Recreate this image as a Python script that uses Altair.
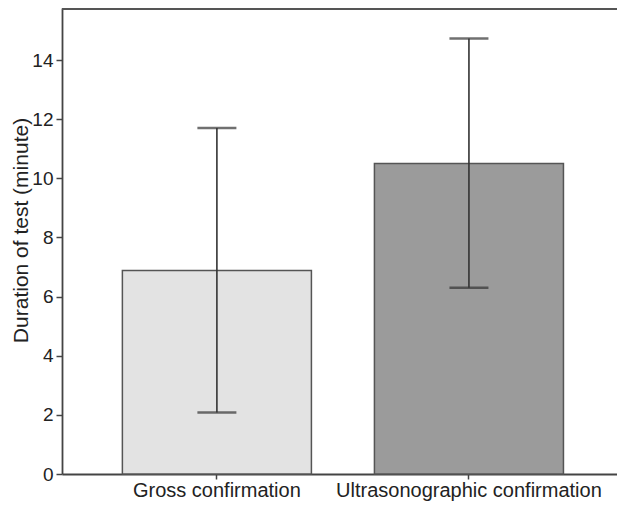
import altair as alt
import pandas as pd

groups = ["Gross confirmation", "Ultrasonographic confirmation"]
means = [6.88, 10.5]
lows = [2.08, 6.3]
highs = [11.7, 14.73]
fills = ["#e3e3e3", "#9b9b9b"]
yticks = [0, 2, 4, 6, 8, 10, 12, 14]

df = pd.DataFrame({"group": groups, "mean": means, "low": lows, "high": highs, "fill": fills})

ymax = 15.76
FONT = "Liberation Sans"
xenc = alt.X("group:N", sort=groups, title=None,
             scale=alt.Scale(paddingInner=0.25, paddingOuter=0.226, align=0.53),
             axis=alt.Axis(labelAngle=0, labelFontSize=20, labelFont=FONT,
                           labelColor="#222", labelPadding=1, tickSize=5, tickColor="#444",
                           tickWidth=1.5, domainColor="#444", domainWidth=1.8, labelLimit=400))
yscale = alt.Scale(domain=[0, ymax], nice=False)
yaxis = alt.Axis(values=yticks, labelFontSize=19, labelFont=FONT,
                 labelColor="#222", labelPadding=3, tickSize=6, tickColor="#444", tickWidth=1.5,
                 domainColor="#444", domainWidth=1.8, grid=False,
                 title="Duration of test (minute)", titleFont=FONT, titleFontSize=21,
                 titleFontWeight="normal", titleColor="#222", titlePadding=0, titleY=222)

base = alt.Chart(df)
bars = base.mark_bar(stroke="#555", strokeWidth=1.5).encode(
    x=xenc,
    y=alt.Y("mean:Q", scale=yscale, axis=yaxis),
    fill=alt.Fill("fill:N", scale=None),
)
rule = base.mark_rule(color="#333", strokeWidth=1.6).encode(
    x=alt.X("group:N", sort=groups), y="low:Q", y2="high:Q")
cap_hi = base.mark_tick(color="#333", thickness=2.5, size=39, orient="horizontal").encode(
    x=alt.X("group:N", sort=groups), y="high:Q")
cap_lo = base.mark_tick(color="#333", thickness=2.5, size=39, orient="horizontal").encode(
    x=alt.X("group:N", sort=groups), y="low:Q")
top = alt.Chart(pd.DataFrame({"a": [0]})).mark_rule(color="#555", strokeWidth=1.8).encode(
    x=alt.value(0), x2=alt.value(556), y=alt.value(1))

chart = alt.layer(bars, rule, cap_hi, cap_lo, top).properties(
    width=555, height=466,
    autosize=alt.AutoSizeParams(type="none"),
    padding={"left": 54, "top": 0, "right": 0, "bottom": 28},
).configure_view(stroke=None)

chart.save("out.html", embed_options={"renderer": "svg", "actions": False})
